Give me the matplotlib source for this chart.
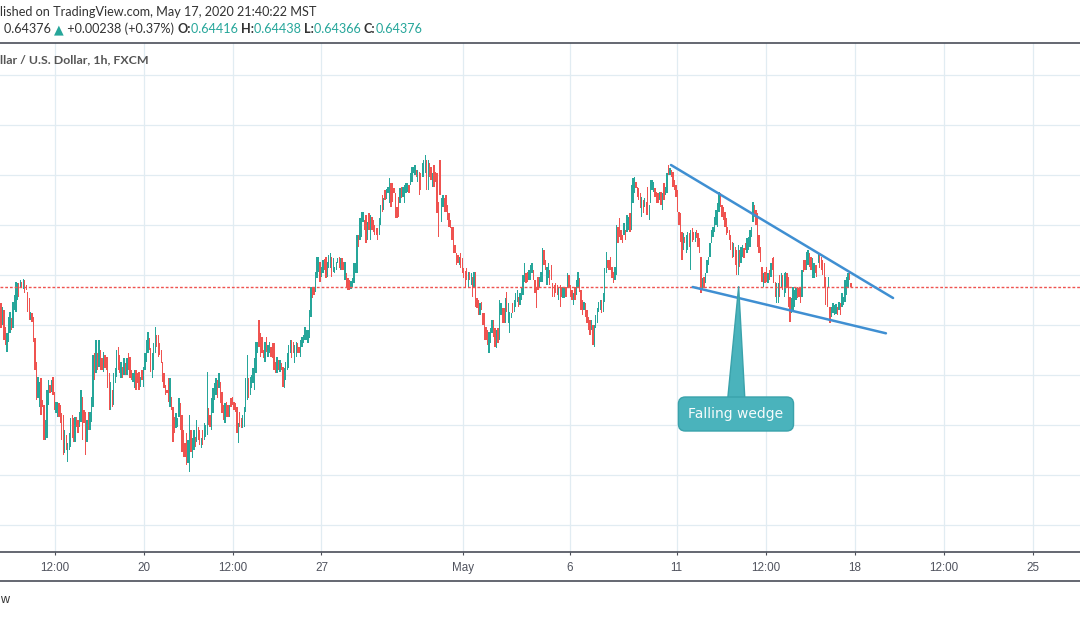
import numpy as np
import matplotlib
matplotlib.use("Agg")
import matplotlib.pyplot as plt
from matplotlib.lines import Line2D

# ---------------- data (AUD/USD 1h, FXCM) ----------------
opens_1 = [
    0.6422, 0.6400, 0.6415, 0.6398, 0.6373, 0.6383, 0.6392, 0.6407, 0.6397, 0.6415,
    0.6413, 0.6425, 0.6442, 0.6437, 0.6443, 0.6436, 0.6445, 0.6440, 0.6433, 0.6427,
    0.6405, 0.6412, 0.6408, 0.6387, 0.6363, 0.6327, 0.6318, 0.6347, 0.6325, 0.6320,
    0.6285, 0.6287, 0.6320, 0.6340, 0.6333, 0.6348, 0.6333, 0.6312, 0.6308, 0.6322,
    0.6320, 0.6312, 0.6310, 0.6272, 0.6290, 0.6263, 0.6275, 0.6278, 0.6310, 0.6307,
    0.6283, 0.6308, 0.6305, 0.6298, 0.6303, 0.6328, 0.6315, 0.6313, 0.6283, 0.6313,
    0.6295, 0.6303, 0.6318, 0.6372, 0.6352, 0.6372, 0.6358, 0.6375, 0.6367, 0.6353,
    0.6370, 0.6368, 0.6368, 0.6352, 0.6315, 0.6335, 0.6320, 0.6342, 0.6348, 0.6378,
    0.6370, 0.6347, 0.6358, 0.6350, 0.6362, 0.6350, 0.6372, 0.6368, 0.6355, 0.6343,
    0.6337, 0.6355, 0.6352, 0.6353, 0.6338, 0.6355, 0.6338, 0.6355, 0.6363, 0.6372,
    0.6387, 0.6377, 0.6347, 0.6355, 0.6372, 0.6390, 0.6390, 0.6382, 0.6375, 0.6363,
    0.6352, 0.6340, 0.6335, 0.6347, 0.6318, 0.6328, 0.6318, 0.6308, 0.6297, 0.6298,
    0.6308, 0.6322, 0.6310, 0.6295, 0.6282, 0.6292, 0.6262, 0.6253, 0.6295, 0.6267,
    0.6275, 0.6288, 0.6283, 0.6298, 0.6295, 0.6277, 0.6295, 0.6285, 0.6288, 0.6290,
    0.6317, 0.6310, 0.6295, 0.6312, 0.6325, 0.6330, 0.6345, 0.6337, 0.6343, 0.6333,
    0.6320, 0.6302, 0.6323, 0.6320, 0.6308, 0.6327, 0.6328, 0.6323, 0.6322, 0.6318,
    0.6282, 0.6313, 0.6307, 0.6297, 0.6298, 0.6313, 0.6325, 0.6347, 0.6330, 0.6337,
    0.6342, 0.6335, 0.6352, 0.6372, 0.6405, 0.6392, 0.6388, 0.6375, 0.6363, 0.6388,
    0.6368, 0.6372, 0.6378, 0.6382, 0.6382, 0.6363, 0.6352, 0.6365, 0.6353, 0.6362,
    0.6358, 0.6337, 0.6345, 0.6355, 0.6357, 0.6372, 0.6385, 0.6383, 0.6362, 0.6368,
    0.6382, 0.6378, 0.6368, 0.6378, 0.6382, 0.6385, 0.6385, 0.6382, 0.6387, 0.6408,
    0.6438, 0.6438, 0.6433, 0.6447, 0.6453, 0.6463, 0.6448, 0.6452, 0.6466, 0.6468,
    0.6448, 0.6457, 0.6457, 0.6468, 0.6453, 0.6452, 0.6455, 0.6462, 0.6468, 0.6455,
    0.6467, 0.6463, 0.6445, 0.6452, 0.6447, 0.6445, 0.6436, 0.6438, 0.6442, 0.6452,
    0.6452, 0.6490,
]
closes_1 = [
    0.6397, 0.6418, 0.6385, 0.6380, 0.6392, 0.6408, 0.6413, 0.6395, 0.6423, 0.6430,
    0.6443, 0.6442, 0.6428, 0.6445, 0.6438, 0.6446, 0.6432, 0.6435, 0.6413, 0.6405,
    0.6413, 0.6403, 0.6383, 0.6355, 0.6325, 0.6348, 0.6343, 0.6310, 0.6318, 0.6285,
    0.6305, 0.6335, 0.6345, 0.6332, 0.6345, 0.6330, 0.6315, 0.6323, 0.6323, 0.6308,
    0.6302, 0.6285, 0.6270, 0.6295, 0.6275, 0.6282, 0.6292, 0.6307, 0.6287, 0.6283,
    0.6308, 0.6298, 0.6292, 0.6313, 0.6335, 0.6285, 0.6302, 0.6270, 0.6305, 0.6295,
    0.6313, 0.6328, 0.6370, 0.6345, 0.6385, 0.6355, 0.6385, 0.6355, 0.6355, 0.6373,
    0.6357, 0.6355, 0.6337, 0.6315, 0.6343, 0.6318, 0.6352, 0.6357, 0.6375, 0.6355,
    0.6352, 0.6363, 0.6347, 0.6367, 0.6350, 0.6367, 0.6355, 0.6347, 0.6345, 0.6352,
    0.6355, 0.6335, 0.6342, 0.6335, 0.6348, 0.6345, 0.6358, 0.6372, 0.6385, 0.6393,
    0.6375, 0.6353, 0.6372, 0.6382, 0.6398, 0.6378, 0.6368, 0.6370, 0.6362, 0.6343,
    0.6337, 0.6330, 0.6332, 0.6323, 0.6347, 0.6315, 0.6283, 0.6292, 0.6312, 0.6307,
    0.6327, 0.6295, 0.6273, 0.6268, 0.6268, 0.6260, 0.6285, 0.6310, 0.6273, 0.6287,
    0.6295, 0.6278, 0.6305, 0.6285, 0.6280, 0.6287, 0.6280, 0.6302, 0.6300, 0.6353,
    0.6300, 0.6298, 0.6327, 0.6337, 0.6342, 0.6347, 0.6327, 0.6352, 0.6322, 0.6312,
    0.6305, 0.6322, 0.6308, 0.6308, 0.6320, 0.6318, 0.6320, 0.6315, 0.6313, 0.6292,
    0.6302, 0.6298, 0.6297, 0.6310, 0.6318, 0.6347, 0.6370, 0.6327, 0.6348, 0.6350,
    0.6357, 0.6367, 0.6383, 0.6383, 0.6378, 0.6368, 0.6372, 0.6367, 0.6383, 0.6373,
    0.6380, 0.6383, 0.6368, 0.6367, 0.6355, 0.6352, 0.6368, 0.6355, 0.6365, 0.6355,
    0.6338, 0.6357, 0.6363, 0.6372, 0.6380, 0.6385, 0.6367, 0.6372, 0.6380, 0.6383,
    0.6372, 0.6372, 0.6385, 0.6388, 0.6390, 0.6398, 0.6395, 0.6395, 0.6415, 0.6438,
    0.6427, 0.6430, 0.6453, 0.6468, 0.6468, 0.6443, 0.6458, 0.6465, 0.6455, 0.6447,
    0.6463, 0.6470, 0.6472, 0.6448, 0.6467, 0.6458, 0.6463, 0.6467, 0.6457, 0.6467,
    0.6455, 0.6455, 0.6463, 0.6437, 0.6435, 0.6435, 0.6444, 0.6447, 0.6462, 0.6462,
    0.6490, 0.6478,
]
opens_2 = [
    0.6485, 0.6488, 0.6503, 0.6505, 0.6510, 0.6485, 0.6512, 0.6485, 0.6508, 0.6505,
    0.6500, 0.6497, 0.6497, 0.6490, 0.6500, 0.6530, 0.6515, 0.6535, 0.6526, 0.6532,
    0.6522, 0.6542, 0.6542, 0.6537, 0.6532, 0.6518, 0.6528, 0.6522, 0.6538, 0.6528,
    0.6522, 0.6532, 0.6533, 0.6540, 0.6540, 0.6543, 0.6552, 0.6550, 0.6555, 0.6543,
    0.6553, 0.6552, 0.6548, 0.6548, 0.6552, 0.6565, 0.6535, 0.6562, 0.6558, 0.6538,
    0.6560, 0.6553, 0.6552, 0.6523, 0.6565, 0.6503, 0.6518, 0.6527, 0.6530, 0.6520,
    0.6512, 0.6505, 0.6498, 0.6498, 0.6480, 0.6472, 0.6470, 0.6460, 0.6472, 0.6467,
    0.6457, 0.6454, 0.6457, 0.6438, 0.6453, 0.6440, 0.6448, 0.6438, 0.6453, 0.6427,
    0.6425, 0.6410, 0.6423, 0.6412, 0.6412, 0.6398, 0.6395, 0.6372, 0.6382, 0.6392,
    0.6405, 0.6397, 0.6377, 0.6397, 0.6385, 0.6410, 0.6417, 0.6417, 0.6402, 0.6433,
    0.6402, 0.6392, 0.6407, 0.6422, 0.6413, 0.6418, 0.6423, 0.6428, 0.6420, 0.6425,
    0.6430, 0.6443, 0.6452, 0.6453, 0.6445, 0.6445, 0.6452, 0.6455, 0.6445, 0.6438,
    0.6448, 0.6438, 0.6443, 0.6443, 0.6475, 0.6465, 0.6440, 0.6447, 0.6455, 0.6460,
    0.6442, 0.6440, 0.6442, 0.6440, 0.6425, 0.6440, 0.6438, 0.6427, 0.6427, 0.6438,
    0.6437, 0.6450, 0.6440, 0.6435, 0.6420, 0.6438, 0.6430, 0.6438, 0.6447, 0.6435,
    0.6425, 0.6415, 0.6422, 0.6415, 0.6408, 0.6405, 0.6395, 0.6400, 0.6378, 0.6397,
    0.6402, 0.6413, 0.6415, 0.6425, 0.6413, 0.6423, 0.6452, 0.6465, 0.6465, 0.6468,
    0.6458, 0.6453, 0.6445, 0.6450, 0.6498, 0.6507, 0.6495, 0.6490, 0.6490, 0.6495,
    0.6493, 0.6495, 0.6512,
]
closes_2 = [
    0.6507, 0.6513, 0.6513, 0.6495, 0.6482, 0.6503, 0.6495, 0.6510, 0.6495, 0.6493,
    0.6490, 0.6490, 0.6485, 0.6507, 0.6520, 0.6513, 0.6527, 0.6525, 0.6536, 0.6538,
    0.6547, 0.6518, 0.6523, 0.6532, 0.6507, 0.6507, 0.6508, 0.6537, 0.6527, 0.6538,
    0.6540, 0.6542, 0.6542, 0.6532, 0.6552, 0.6558, 0.6558, 0.6560, 0.6548, 0.6555,
    0.6530, 0.6535, 0.6562, 0.6565, 0.6570, 0.6535, 0.6565, 0.6548, 0.6545, 0.6552,
    0.6538, 0.6543, 0.6512, 0.6488, 0.6530, 0.6527, 0.6530, 0.6513, 0.6513, 0.6505,
    0.6498, 0.6497, 0.6485, 0.6472, 0.6472, 0.6460, 0.6462, 0.6468, 0.6457, 0.6452,
    0.6447, 0.6438, 0.6445, 0.6453, 0.6445, 0.6452, 0.6428, 0.6453, 0.6418, 0.6417,
    0.6410, 0.6422, 0.6415, 0.6400, 0.6385, 0.6385, 0.6380, 0.6393, 0.6397, 0.6405,
    0.6388, 0.6378, 0.6395, 0.6382, 0.6425, 0.6422, 0.6402, 0.6402, 0.6427, 0.6413,
    0.6422, 0.6413, 0.6412, 0.6412, 0.6425, 0.6432, 0.6435, 0.6418, 0.6432, 0.6438,
    0.6450, 0.6462, 0.6442, 0.6443, 0.6455, 0.6460, 0.6462, 0.6445, 0.6432, 0.6417,
    0.6435, 0.6448, 0.6453, 0.6477, 0.6460, 0.6455, 0.6458, 0.6462, 0.6440, 0.6445,
    0.6428, 0.6428, 0.6432, 0.6430, 0.6438, 0.6418, 0.6428, 0.6438, 0.6438, 0.6428,
    0.6452, 0.6438, 0.6428, 0.6425, 0.6432, 0.6425, 0.6445, 0.6453, 0.6433, 0.6415,
    0.6410, 0.6423, 0.6408, 0.6402, 0.6395, 0.6390, 0.6405, 0.6380, 0.6400, 0.6410,
    0.6417, 0.6423, 0.6425, 0.6412, 0.6432, 0.6457, 0.6473, 0.6457, 0.6455, 0.6455,
    0.6447, 0.6442, 0.6458, 0.6500, 0.6482, 0.6488, 0.6485, 0.6482, 0.6502, 0.6485,
    0.6510, 0.6508, 0.6493,
]
opens_3 = [
    0.6495, 0.6522, 0.6532, 0.6543, 0.6538, 0.6537, 0.6532, 0.6508, 0.6525, 0.6518,
    0.6523, 0.6538, 0.6505, 0.6522, 0.6535, 0.6533, 0.6537, 0.6533, 0.6532, 0.6525,
]
closes_3 = [
    0.6540, 0.6547, 0.6548, 0.6537, 0.6528, 0.6525, 0.6517, 0.6528, 0.6512, 0.6527,
    0.6510, 0.6510, 0.6520, 0.6545, 0.6545, 0.6543, 0.6528, 0.6522, 0.6522, 0.6533,
]
opens_4 = [
    0.6533, 0.6515, 0.6542, 0.6530, 0.6532, 0.6560, 0.6550, 0.6555, 0.6553, 0.6545,
    0.6540, 0.6535, 0.6513, 0.6512, 0.6493, 0.6475, 0.6488, 0.6472, 0.6475, 0.6492,
    0.6455, 0.6497, 0.6493, 0.6483, 0.6495, 0.6492, 0.6487, 0.6468, 0.6435, 0.6448,
    0.6442, 0.6452, 0.6460, 0.6468, 0.6482, 0.6488, 0.6493, 0.6500, 0.6498, 0.6513,
    0.6532, 0.6520, 0.6518, 0.6513, 0.6507, 0.6498, 0.6495, 0.6490, 0.6483, 0.6468,
    0.6478, 0.6475, 0.6450, 0.6475, 0.6462, 0.6468, 0.6477, 0.6482, 0.6472, 0.6475,
    0.6478, 0.6488, 0.6503, 0.6520, 0.6515, 0.6512, 0.6490, 0.6478, 0.6458, 0.6438,
    0.6453, 0.6458, 0.6442, 0.6455, 0.6448, 0.6467, 0.6468, 0.6443, 0.6422, 0.6422,
    0.6450, 0.6438, 0.6450, 0.6428, 0.6432, 0.6452, 0.6448, 0.6428, 0.6412, 0.6415,
    0.6418, 0.6425, 0.6438, 0.6437, 0.6438, 0.6428, 0.6465, 0.6465, 0.6455, 0.6460,
    0.6472, 0.6468, 0.6447, 0.6447, 0.6460, 0.6460, 0.6462, 0.6470, 0.6468, 0.6465,
    0.6462, 0.6448, 0.6438, 0.6438, 0.6418, 0.6408, 0.6412, 0.6410, 0.6411, 0.6418,
    0.6415, 0.6422, 0.6418, 0.6420, 0.6423, 0.6430, 0.6437, 0.6453, 0.64416,
]
closes_4 = [
    0.6520, 0.6532, 0.6525, 0.6538, 0.6552, 0.6550, 0.6557, 0.6548, 0.6538, 0.6535,
    0.6528, 0.6513, 0.6500, 0.6483, 0.6465, 0.6492, 0.6482, 0.6490, 0.6493, 0.6478,
    0.6495, 0.6483, 0.6485, 0.6493, 0.6487, 0.6478, 0.6472, 0.6432, 0.6447, 0.6437,
    0.6452, 0.6465, 0.6468, 0.6482, 0.6495, 0.6498, 0.6508, 0.6515, 0.6522, 0.6533,
    0.6518, 0.6508, 0.6505, 0.6498, 0.6490, 0.6492, 0.6485, 0.6475, 0.6467, 0.6482,
    0.6460, 0.6450, 0.6480, 0.6458, 0.6478, 0.6480, 0.6467, 0.6475, 0.6487, 0.6488,
    0.6495, 0.6498, 0.6523, 0.6508, 0.6500, 0.6478, 0.6472, 0.6463, 0.6443, 0.6452,
    0.6442, 0.6443, 0.6452, 0.6445, 0.6462, 0.6455, 0.6442, 0.6428, 0.6442, 0.6442,
    0.6428, 0.6452, 0.6435, 0.6452, 0.6453, 0.6437, 0.6418, 0.6403, 0.6427, 0.6438,
    0.6435, 0.6437, 0.6427, 0.6428, 0.6422, 0.6455, 0.6453, 0.6455, 0.6473, 0.6475,
    0.6458, 0.6455, 0.6467, 0.6462, 0.6452, 0.6448, 0.6472, 0.6457, 0.6455, 0.6450,
    0.6438, 0.6420, 0.6418, 0.6448, 0.6402, 0.6418, 0.6422, 0.6420, 0.6421, 0.6410,
    0.6423, 0.6410, 0.6432, 0.6428, 0.6445, 0.6448, 0.6452, 0.6445, 0.64376,
]

tick_labels = ["12:00", "20", "12:00", "27", "May", "6", "11", "12:00", "18", "12:00", "25"]
tick_bars = [36.4, 96.4, 156.4, 216.0, 311.5, 383.5, 455.5, 515.5, 575.5, 635.5, 695.5]

header_line1 = "lished on TradingView.com, May 17, 2020 21:40:22 MST"
symbol_title = "llar / U.S. Dollar, 1h, FXCM"
last_value = "0.64376"
change_text = "+0.00238 (+0.37%)"
ohlc_labels = ["O:", "H:", "L:", "C:"]
ohlc_values = ["0.64416", "0.64438", "0.64366", "0.64376"]

wedge_upper = [(451.7, 0.6560), (601.4, 0.6427)]
wedge_lower = [(466.3, 0.6438), (596.6, 0.63917)]
callout_text = "Falling wedge"
callout_tip = (497.3, 0.64383)
callout_center = (495.5, 0.6311)

# ---------------- styling ----------------
W, H, DPI = 1080, 618, 100
UP, DOWN = "#26a69a", "#ef5350"
GRID = "#e1ecf2"
DARK = "#4a4e59"
TXT = "#333333"
TEAL_TXT = "#26a69a"
WEDGE = "#3f8fd2"
CALLOUT_FILL = "#4ab3bc"
CALLOUT_EDGE = "#3aa2ab"
FONT = ["Liberation Sans", "DejaVu Sans"]
HFONT = ["Lato", "DejaVu Sans"]

px_per_bar = 1.4833
first_bar_px = 1.0
bar_px = 1.35                    # on-screen candle width in pixels
pane_top_px, pane_bot_px = 43.3, 552.0
price_at_px0, price_per_px = 0.6725, 0.0001

opens = np.array(opens_1 + opens_2 + opens_3 + opens_4)
closes = np.array(closes_1 + closes_2 + closes_3 + closes_4)
assert len(opens) == len(closes)
x = np.arange(len(opens))

fig = plt.figure(figsize=(W / DPI, H / DPI), dpi=DPI)
fig.patch.set_facecolor("white")
ax = fig.add_axes([0, (H - pane_bot_px) / H, 1, (pane_bot_px - pane_top_px) / H])
ax.set_facecolor("white")
ax.set_xlim(-first_bar_px / px_per_bar, (W - first_bar_px) / px_per_bar)
ax.set_ylim(price_at_px0 - price_per_px * pane_bot_px, price_at_px0 - price_per_px * pane_top_px)

# grid
ax.set_yticks(np.arange(0.620, 0.6651, 0.005))
ax.set_xticks(tick_bars)
ax.set_xticklabels(tick_labels, fontsize=8.4, color="#50535e", family=FONT)
ax.grid(True, color=GRID, lw=0.9, zorder=0)
ax.set_axisbelow(True)
ax.tick_params(axis="y", left=False, labelleft=False)
ax.tick_params(axis="x", length=2.5, width=0.8, color=DARK, pad=4.5)
for s in ("left", "right"):
    ax.spines[s].set_visible(False)
for s in ("top", "bottom"):
    ax.spines[s].set_color(DARK)
    ax.spines[s].set_linewidth(1.2)

# candles: narrow crisp bodies
colors = np.where(closes >= opens, UP, DOWN)
ax.bar(x, closes - opens, bottom=opens, width=bar_px / px_per_bar, color=colors,
       linewidth=0, antialiased=False, zorder=2)

# last price line
ax.axhline(closes[-1], color=DOWN, lw=1.0, dashes=(2.0, 1.4), zorder=3)

# wedge lines
for pts in (wedge_upper, wedge_lower):
    xs, ys = zip(*pts)
    ax.plot(xs, ys, color=WEDGE, lw=1.8, solid_capstyle="round", zorder=4)

# callout
ax.annotate(callout_text, xy=callout_tip, xytext=callout_center,
            ha="center", va="center", fontsize=10, color="#f6fbfb",
            family="DejaVu Sans", zorder=6,
            bbox=dict(boxstyle="round,pad=0.72,rounding_size=0.5",
                      fc=CALLOUT_FILL, ec=CALLOUT_EDGE, lw=1.0),
            arrowprops=dict(arrowstyle="wedge,tail_width=1.4,shrink_factor=0.5",
                            fc=CALLOUT_FILL, ec=CALLOUT_EDGE, lw=1.0,
                            shrinkA=0, shrinkB=0, patchA=None))

# ---------------- header / text ----------------
renderer = fig.canvas.get_renderer()


def text_width(s, size, **kw):
    t = fig.text(0, 0, s, fontsize=size, **kw)
    w = t.get_window_extent(renderer).width
    t.remove()
    return w


def fig_y(py):
    return 1 - py / H


s1 = 10 * 316 / text_width(header_line1, 10, family=HFONT)
fig.text(0, fig_y(12), header_line1, fontsize=s1, color=TXT, family=HFONT, va="center", ha="left")

pieces = [(last_value + " ", TXT, "normal"), ("\u25b2", TEAL_TXT, "normal"),
          (" " + change_text + " ", TXT, "normal")]
for i, (lab, val) in enumerate(zip(ohlc_labels, ohlc_values)):
    pieces.append((lab, TXT, "bold"))
    pieces.append((val + (" " if i < 3 else ""), TEAL_TXT, "normal"))

total10 = sum(text_width(s, 10, family=HFONT, fontweight=wt) for s, _, wt in pieces)
s2 = 10 * 419 / total10
cx = 4.0
for s, col, wt in pieces:
    t = fig.text(cx / W, fig_y(29), s, fontsize=s2, color=col, fontweight=wt,
                 family=HFONT, va="center", ha="left")
    cx += t.get_window_extent(renderer).width

s3 = 10 * 149 / text_width(symbol_title, 10, family=HFONT, fontweight="bold")
fig.text(0, fig_y(60), symbol_title, fontsize=s3, color="#555555", family=HFONT,
         fontweight="bold", va="center", ha="left", zorder=5)

fig.add_artist(Line2D([0, 1], [fig_y(581), fig_y(581)], transform=fig.transFigure,
                      color=DARK, lw=1.2))
fig.text(0, fig_y(600), "w", fontsize=9, color=TXT, family=FONT, va="center", ha="left")

fig.savefig("out.png", dpi=DPI, facecolor="white")
